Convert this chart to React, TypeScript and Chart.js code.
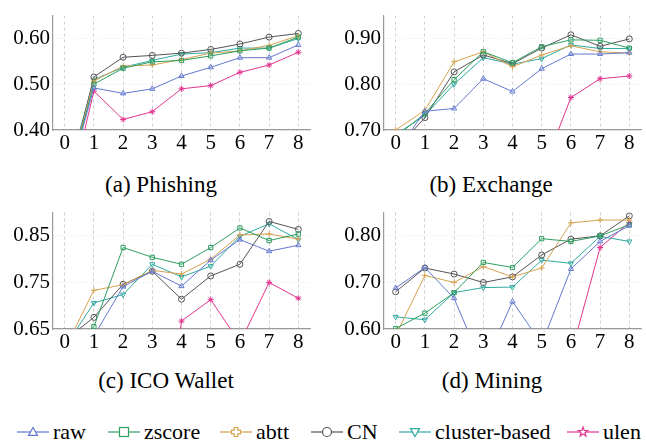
import React, { useEffect, useRef } from 'react';
import { Chart, registerables } from 'chart.js';

Chart.register(...registerables);

// ---------- data ----------
const xValues = [0, 1, 2, 3, 4, 5, 6, 7, 8];
const seriesNames = ['raw', 'zscore', 'abtt', 'CN', 'cluster-based', 'ulen'];
const seriesColors = ['#6479d1', '#2f9e60', '#d5a24f', '#555555', '#2fa9a0', '#e2358f'];
const pointStyles = ['triangle', 'rect', 'crossRot', 'circle', 'triangle', 'star'];
const pointRotations = [0, 0, 45, 0, 180, 0];

const phishingRaw = [0.262, 0.492, 0.48, 0.49, 0.518, 0.537, 0.558, 0.558, 0.586];
const phishingZscore = [0.262, 0.5, 0.535, 0.549, 0.552, 0.562, 0.573, 0.579, 0.603];
const phishingAbtt = [0.264, 0.507, 0.54, 0.542, 0.554, 0.568, 0.573, 0.585, 0.606];
const phishingCN = [0.258, 0.516, 0.559, 0.563, 0.568, 0.576, 0.588, 0.603, 0.611];
const phishingCluster = [0.28, 0.51, 0.537, 0.552, 0.566, 0.569, 0.579, 0.579, 0.6];
const phishingUlen = [0.215, 0.485, 0.423, 0.44, 0.49, 0.497, 0.526, 0.542, 0.57];

const exchangeRaw = [0.65, 0.741, 0.747, 0.812, 0.784, 0.834, 0.866, 0.866, 0.869];
const exchangeZscore = [0.685, 0.736, 0.81, 0.871, 0.847, 0.882, 0.897, 0.896, 0.879];
const exchangeAbtt = [0.7, 0.743, 0.849, 0.871, 0.838, 0.864, 0.884, 0.871, 0.868];
const exchangeCN = [0.657, 0.727, 0.827, 0.864, 0.845, 0.879, 0.908, 0.883, 0.899];
const exchangeCluster = [0.69, 0.732, 0.8, 0.858, 0.844, 0.856, 0.886, 0.878, 0.878];
const exchangeUlen = [0.4, 0.42, 0.45, 0.48, 0.5, 0.606, 0.771, 0.812, 0.818];

const icoRaw = [0.6, 0.635, 0.741, 0.774, 0.742, 0.798, 0.842, 0.817, 0.83];
const icoZscore = [0.6, 0.655, 0.825, 0.804, 0.789, 0.825, 0.867, 0.84, 0.854];
const icoAbtt = [0.607, 0.733, 0.745, 0.776, 0.768, 0.8, 0.852, 0.854, 0.843];
const icoCN = [0.626, 0.675, 0.746, 0.774, 0.714, 0.764, 0.789, 0.881, 0.864];
const icoCluster = [0.61, 0.706, 0.724, 0.789, 0.762, 0.785, 0.849, 0.876, 0.842];
const icoUlen = [0.2, 0.2, 0.2, 0.2, 0.667, 0.713, 0.62, 0.75, 0.716];

const miningRaw = [0.688, 0.732, 0.666, 0.518, 0.659, 0.568, 0.729, 0.788, 0.822];
const miningZscore = [0.601, 0.634, 0.678, 0.743, 0.732, 0.794, 0.788, 0.8, 0.824];
const miningAbtt = [0.586, 0.715, 0.7, 0.734, 0.712, 0.731, 0.828, 0.834, 0.834];
const miningCN = [0.68, 0.731, 0.718, 0.7, 0.712, 0.759, 0.793, 0.8, 0.843];
const miningCluster = [0.626, 0.62, 0.678, 0.689, 0.69, 0.748, 0.741, 0.799, 0.788];
const miningUlen = [0.45, 0.45, 0.45, 0.45, 0.45, 0.45, 0.545, 0.775, 0.829];

const phishingTicks = [0.4, 0.5, 0.6];
const exchangeTicks = [0.7, 0.8, 0.9];
const icoTicks = [0.65, 0.75, 0.85];
const miningTicks = [0.6, 0.7, 0.8];

const captions = ['(a) Phishing', '(b) Exchange', '(c) ICO Wallet', '(d) Mining'];

// ---------- layout ----------
const SERIF = "'Liberation Serif', 'DejaVu Serif', 'Times New Roman', serif";

type Box = { x: number; y: number; w: number; h: number };
type Area = { l: number; t: number; r: number; b: number };

const panels = [
  {
    box: { x: 0, y: 0, w: 323, h: 165 },
    area: { l: 53, t: 8, r: 310, b: 130 },
    series: [phishingRaw, phishingZscore, phishingAbtt, phishingCN, phishingCluster, phishingUlen],
    yMin: 0.4, yMax: 0.65, yTicks: phishingTicks,
    captionX: 161, captionY: 185,
  },
  {
    box: { x: 323, y: 0, w: 323, h: 165 },
    area: { l: 384, t: 8, r: 641, b: 130 },
    series: [exchangeRaw, exchangeZscore, exchangeAbtt, exchangeCN, exchangeCluster, exchangeUlen],
    yMin: 0.7, yMax: 0.95, yTicks: exchangeTicks,
    captionX: 491, captionY: 185,
  },
  {
    box: { x: 0, y: 197, w: 323, h: 165 },
    area: { l: 53, t: 206, r: 310, b: 329 },
    series: [icoRaw, icoZscore, icoAbtt, icoCN, icoCluster, icoUlen],
    yMin: 0.65, yMax: 0.9, yTicks: icoTicks,
    captionX: 166, captionY: 381,
  },
  {
    box: { x: 323, y: 197, w: 323, h: 165 },
    area: { l: 384, t: 206, r: 641, b: 329 },
    series: [miningRaw, miningZscore, miningAbtt, miningCN, miningCluster, miningUlen],
    yMin: 0.6, yMax: 0.85, yTicks: miningTicks,
    captionX: 492, captionY: 381,
  },
];

function Panel(props: {
  box: Box; area: Area; series: number[][]; yMin: number; yMax: number; yTicks: number[];
}) {
  const ref = useRef<HTMLCanvasElement | null>(null);
  const { box, area, series, yMin, yMax, yTicks } = props;
  useEffect(() => {
    if (!ref.current) return;
    const padTop = area.t - box.y;
    const padRight = box.x + box.w - area.r;
    const yW = area.l - box.x;
    const xH = box.y + box.h - area.b;
    const tickFont = { family: SERIF, size: 21 };
    const chart = new Chart(ref.current, {
      type: 'line',
      data: {
        datasets: series.map((vals, i) => ({
          label: seriesNames[i],
          data: vals.map((v, j) => ({ x: xValues[j], y: v })),
          borderColor: seriesColors[i],
          backgroundColor: seriesColors[i],
          pointBorderColor: seriesColors[i],
          pointBackgroundColor: 'rgba(255,255,255,0)',
          borderWidth: 1,
          pointStyle: pointStyles[i] as any,
          pointRotation: pointRotations[i],
          pointRadius: 3,
          pointBorderWidth: 1,
          fill: false,
          tension: 0,
        })),
      },
      options: {
        responsive: false,
        maintainAspectRatio: false,
        animation: false,
        events: [],
        layout: { padding: { top: padTop, right: padRight, left: 0, bottom: 0 } },
        plugins: { legend: { display: false }, tooltip: { enabled: false } },
        scales: {
          x: {
            type: 'linear',
            min: -0.4,
            max: 8.4,
            afterBuildTicks: (s: any) => {
              s.ticks = xValues.map((v) => ({ value: v }));
            },
            afterFit: (s: any) => {
              s.height = xH;
            },
            grid: { color: '#c4c4c4', lineWidth: 0.8, drawTicks: false },
            border: { color: '#9a9a9a', width: 1.2, dash: [3, 3] },
            ticks: {
              font: tickFont,
              color: '#000',
              padding: 1,
              autoSkip: false,
              maxRotation: 0,
              callback: (v: any) => String(v),
            },
          },
          y: {
            type: 'linear',
            min: yMin,
            max: yMax,
            afterBuildTicks: (s: any) => {
              s.ticks = yTicks.map((v) => ({ value: v }));
            },
            afterFit: (s: any) => {
              s.width = yW;
            },
            grid: { color: '#e2e2e2', lineWidth: 0.8, drawTicks: false },
            border: { color: '#9a9a9a', width: 1.2, dash: [1, 2] },
            ticks: {
              font: tickFont,
              color: '#000',
              padding: 3,
              callback: (v: any) => Number(v).toFixed(2),
            },
          },
        },
      },
    } as any);
    return () => chart.destroy();
  }, []);
  return (
    <canvas
      ref={ref}
      width={box.w}
      height={box.h}
      style={{ position: 'absolute', left: box.x, top: box.y, width: box.w, height: box.h }}
    />
  );
}

function Marker({ i }: { i: number }) {
  const c = seriesColors[i];
  const cx = 16, cy = 9, r = 4.5;
  let shape: React.ReactNode = null;
  if (i === 0) {
    shape = <polygon points={`${cx},${cy - r} ${cx + r},${cy + r * 0.75} ${cx - r},${cy + r * 0.75}`} fill="white" stroke={c} strokeWidth={1.2} />;
  } else if (i === 1) {
    shape = <rect x={cx - r} y={cy - r} width={2 * r} height={2 * r} fill="white" stroke={c} strokeWidth={1.2} />;
  } else if (i === 2) {
    const a = 1.8;
    shape = (
      <polygon
        points={`${cx - a},${cy - r} ${cx + a},${cy - r} ${cx + a},${cy - a} ${cx + r},${cy - a} ${cx + r},${cy + a} ${cx + a},${cy + a} ${cx + a},${cy + r} ${cx - a},${cy + r} ${cx - a},${cy + a} ${cx - r},${cy + a} ${cx - r},${cy - a} ${cx - a},${cy - a}`}
        fill="white" stroke={c} strokeWidth={1.2}
      />
    );
  } else if (i === 3) {
    shape = <circle cx={cx} cy={cy} r={r} fill="white" stroke={c} strokeWidth={1.2} />;
  } else if (i === 4) {
    shape = <polygon points={`${cx},${cy + r} ${cx + r},${cy - r * 0.75} ${cx - r},${cy - r * 0.75}`} fill="white" stroke={c} strokeWidth={1.2} />;
  } else {
    const pts: string[] = [];
    for (let k = 0; k < 10; k++) {
      const ang = -Math.PI / 2 + (k * Math.PI) / 5;
      const rr = k % 2 === 0 ? r + 0.5 : r * 0.45;
      pts.push(`${(cx + rr * Math.cos(ang)).toFixed(2)},${(cy + rr * Math.sin(ang)).toFixed(2)}`);
    }
    shape = <polygon points={pts.join(' ')} fill="white" stroke={c} strokeWidth={1.2} />;
  }
  return (
    <svg width={32} height={18} style={{ display: 'block' }}>
      <line x1={0} y1={cy} x2={32} y2={cy} stroke={c} strokeWidth={1.2} />
      {shape}
    </svg>
  );
}

const legendLefts = [17, 108, 220, 311, 399, 567];

export default function App() {
  return (
    <div
      style={{
        position: 'fixed', left: 0, top: 0, width: 646, height: 443,
        background: '#fff', overflow: 'hidden', fontFamily: SERIF,
      }}
    >
      {panels.map((p, k) => (
        <React.Fragment key={k}>
          <Panel box={p.box} area={p.area} series={p.series} yMin={p.yMin} yMax={p.yMax} yTicks={p.yTicks} />
          <div
            style={{
              position: 'absolute', left: p.captionX - 120, width: 240, top: p.captionY - 13,
              height: 26, lineHeight: '26px', textAlign: 'center', fontSize: 23, color: '#000',
              whiteSpace: 'nowrap',
            }}
          >
            {captions[k]}
          </div>
        </React.Fragment>
      ))}
      {seriesNames.map((name, i) => (
        <div
          key={name}
          style={{
            position: 'absolute', left: legendLefts[i], top: 420, height: 24,
            display: 'flex', alignItems: 'center', fontSize: 22, color: '#000', whiteSpace: 'nowrap',
          }}
        >
          <Marker i={i} />
          <span style={{ marginLeft: 4, lineHeight: '24px' }}>{name}</span>
        </div>
      ))}
    </div>
  );
}
